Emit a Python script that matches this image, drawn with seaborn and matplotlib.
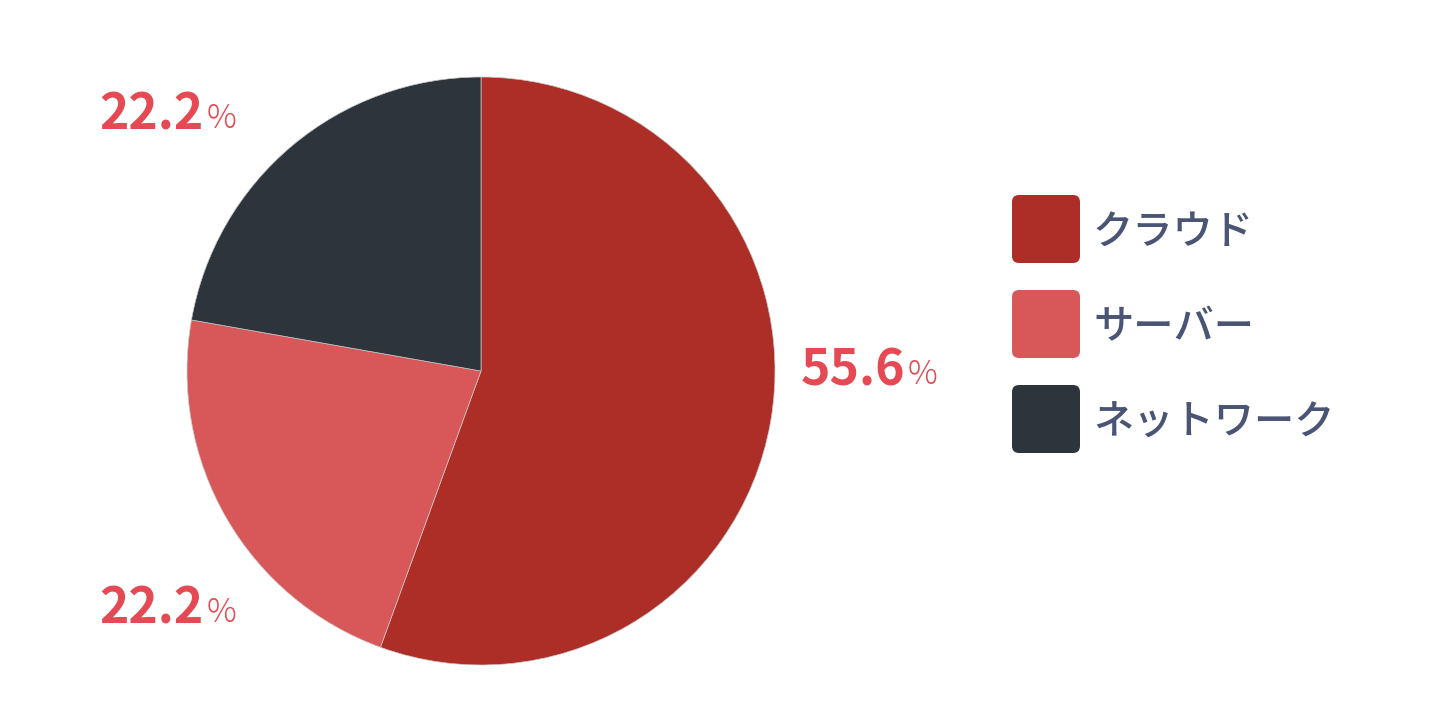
import matplotlib
matplotlib.use('Agg')
import matplotlib.pyplot as plt
import seaborn as sns
from matplotlib.patches import FancyBboxPatch

# data
categories = ['クラウド', 'サーバー', 'ネットワーク']
values = [5, 2, 2]
colors = ['#ad2e26', '#d8585a', '#2e343b']

sns.set_theme(style="white")
plt.rcParams['font.family'] = ['Noto Sans CJK JP', 'DejaVu Sans']

W, H = 1440, 721
fig = plt.figure(figsize=(W / 100, H / 100), dpi=100)
ax = fig.add_axes([0, 0, 1, 1])

ax.pie(values, colors=colors, startangle=90, counterclock=False,
       center=(481, H - 371), radius=294,
       wedgeprops=dict(edgecolor='#c8c8c8', linewidth=0.5))
ax.set_xlim(0, W)
ax.set_ylim(0, H)
ax.set_aspect('equal')
ax.axis('off')

# percentage labels (layout anchors: right edge of number, baseline)
label_pos = [(905, 385), (204, 623), (204, 129)]
total = sum(values)
num_color = '#e54a54'
for v, (x, yb) in zip(values, label_pos):
    pct = v / total * 100
    ax.text(x, H - yb, f'{pct:.1f}', ha='right', va='baseline',
            fontsize=36, fontweight='bold', color=num_color)
    ax.text(x + 3, H - yb + 1, '%', ha='left', va='baseline',
            fontsize=24, fontweight='light', color=num_color)

# legend with rounded squares
leg_x, leg_top, box, step = 1012, 195, 68, 95
for i, (cat, c) in enumerate(zip(categories, colors)):
    top = leg_top + i * step
    ax.add_patch(FancyBboxPatch((leg_x, H - top - box), box, box,
                                boxstyle='round,pad=0,rounding_size=7',
                                facecolor=c, edgecolor='none'))
    ax.text(leg_x + box + 13, H - top - box / 2 - 4, cat, ha='left', va='center',
            fontsize=29, fontweight='medium', color='#4a5474')

fig.savefig('out.png', dpi=100, facecolor='white')
